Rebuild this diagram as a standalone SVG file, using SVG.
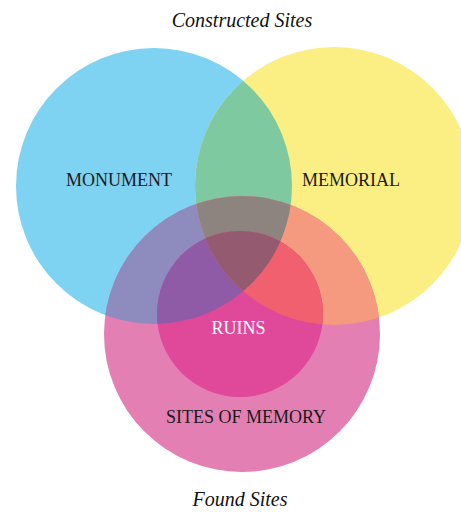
<svg xmlns="http://www.w3.org/2000/svg" width="461" height="512" viewBox="0 0 461 512">
<style>
.lbl{font-family:"Liberation Serif","Times New Roman",serif;font-size:18px;fill:#1a1a1a;text-anchor:middle}
.ttl{font-family:"Liberation Serif","Times New Roman",serif;font-size:20px;font-style:italic;fill:#111;text-anchor:middle}
</style>
<defs>
<clipPath id="cB"><circle cx="154" cy="186" r="138"/></clipPath>
<clipPath id="cY"><circle cx="334" cy="186" r="139"/></clipPath>
</defs>
<rect width="461" height="512" fill="#fff"/>
<g id="monument">
<circle cx="154" cy="186" r="138" fill="#7fd3f2"/>
</g>
<g id="memorial">
<circle cx="334" cy="186" r="139" fill="#fbee82"/>
<circle cx="334" cy="186" r="139" fill="#7fc9a0" clip-path="url(#cB)"/>
</g>
<g id="sites-of-memory">
<circle cx="242" cy="334" r="138" fill="#e47fb3"/>
<circle cx="242" cy="334" r="138" fill="#8e8bbf" clip-path="url(#cB)"/>
<circle cx="242" cy="334" r="138" fill="#f5997f" clip-path="url(#cY)"/>
<g clip-path="url(#cB)"><circle cx="242" cy="334" r="138" fill="#8e847f" clip-path="url(#cY)"/></g>
</g>
<g id="ruins">
<circle cx="240" cy="314" r="83" fill="#e0489a"/>
<circle cx="240" cy="314" r="83" fill="#8f5ba6" clip-path="url(#cB)"/>
<circle cx="240" cy="314" r="83" fill="#f0606f" clip-path="url(#cY)"/>
<g clip-path="url(#cB)"><circle cx="240" cy="314" r="83" fill="#935a70" clip-path="url(#cY)"/></g>
</g>
<g id="labels">
<text class="ttl" x="242" y="27">Constructed Sites</text>
<text class="lbl" x="119" y="186">MONUMENT</text>
<text class="lbl" x="351" y="186">MEMORIAL</text>
<text class="lbl" x="238.5" y="334" style="fill:#fff">RUINS</text>
<text class="lbl" x="246" y="423">SITES OF MEMORY</text>
<text class="ttl" x="240" y="506">Found Sites</text>
</g>
</svg>
